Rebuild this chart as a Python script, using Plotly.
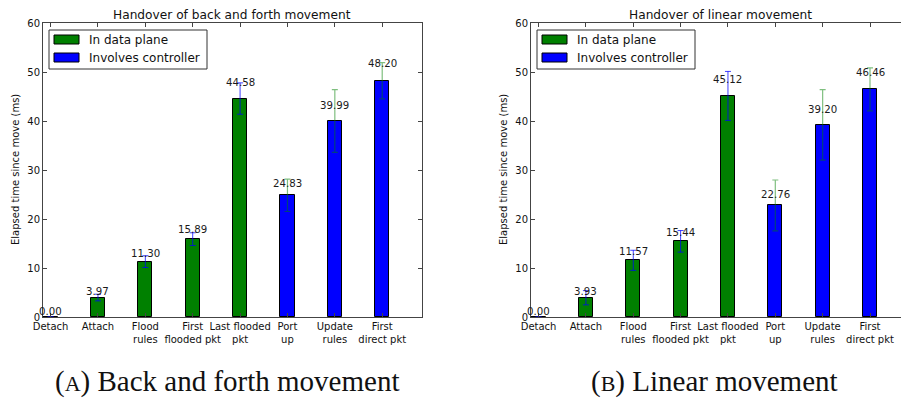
import plotly.graph_objects as go

W, H = 901, 400

categories = ["Detach", "Attach", "Flood<br>rules", "First<br>flooded pkt",
              "Last flooded<br>pkt", "Port<br>up", "Update<br>rules", "First<br>direct pkt"]
positions = list(range(len(categories)))
n_data_plane = 5  # first five steps happen in the data plane

titles = ["Handover of back and forth movement", "Handover of linear movement"]
captions = ["(<span style='font-size:22px'>A</span>) Back and forth movement",
            "(<span style='font-size:22px'>B</span>) Linear movement"]

back_forth_values = [0.00, 3.97, 11.30, 15.89, 44.58, 24.83, 39.99, 48.20]
back_forth_errors = [None, 0.68, 1.2, 1.3, 3.2, 3.3, 6.4, 3.7]
linear_values = [0.00, 3.93, 11.57, 15.44, 45.12, 22.76, 39.20, 46.46]
linear_errors = [None, 1.45, 2.05, 2.2, 5.0, 5.2, 7.2, 4.4]

series_values = [back_forth_values, linear_values]
series_errors = [back_forth_errors, linear_errors]

legend_labels = ["In data plane", "Involves controller"]
GREEN = "#008000"
BLUE = "#0000ff"
FONT = "DejaVu Sans"
AX = "#444444"

def px(x):
    return x / W

def py(y):
    return 1 - y / H

# axes geometry in pixels
ax_left = [43, 531]
ax_right = [422, 901]
ax_top, ax_bottom = 23, 317
unit_px = 47.33
x_ranges = [[-0.16, 7.84], [-0.16, (901 - 538.7) / unit_px]]

fig = go.Figure()
shapes = []
annotations = []

for k in range(2):
    xa = "x" if k == 0 else "x2"
    ya = "y" if k == 0 else "y2"
    vals = series_values[k]
    errs = series_errors[k]
    # data-plane bars
    fig.add_trace(go.Bar(
        x=positions[:n_data_plane], y=vals[:n_data_plane], width=0.3,
        marker=dict(color=GREEN, line=dict(color="#000000", width=1)),
        error_y=dict(type="data", array=errs[:n_data_plane], color="rgba(0,0,255,0.75)",
                     thickness=1, width=3),
        name=legend_labels[0], showlegend=False, xaxis=xa, yaxis=ya))
    # controller bars
    fig.add_trace(go.Bar(
        x=positions[n_data_plane:], y=vals[n_data_plane:], width=0.3,
        marker=dict(color=BLUE, line=dict(color="#000000", width=1)),
        error_y=dict(type="data", array=errs[n_data_plane:], color="rgba(0,128,0,0.5)",
                     thickness=1.2, width=3),
        name=legend_labels[1], showlegend=False, xaxis=xa, yaxis=ya))

    # value labels
    for i, v in zip(positions, vals):
        annotations.append(dict(x=i, y=1.05 * v, xref=xa, yref=ya, text=f"{v:.2f}",
                                showarrow=False, yanchor="bottom", xanchor="center",
                                yshift=-2, font=dict(family=FONT, size=10.2, color="#1a1a1a")))

    L = ax_left[k]
    cx = L + 379 / 2
    # title
    annotations.append(dict(x=px(cx), y=py(15), xref="paper", yref="paper", text=titles[k],
                            showarrow=False, xanchor="center", yanchor="middle",
                            font=dict(family=FONT, size=12.2, color="#111111")))
    # y title
    annotations.append(dict(x=px(L - 28), y=py((ax_top + ax_bottom) / 2), xref="paper", yref="paper",
                            text="Elapsed time since move (ms)", textangle=-90, showarrow=False,
                            xanchor="center", yanchor="middle",
                            font=dict(family=FONT, size=10, color="#111111")))
    # caption
    cap_cx = [227, 714][k]
    annotations.append(dict(x=px(cap_cx), y=py(381), xref="paper", yref="paper", text=captions[k],
                            showarrow=False, xanchor="center", yanchor="middle",
                            font=dict(family="Liberation Serif", size=29, color="#111111")))
    # legend box
    shapes.append(dict(type="rect", xref="paper", yref="paper",
                       x0=px(L + 6), x1=px(L + 164), y0=py(30), y1=py(69),
                       fillcolor="white", line=dict(color="#333333", width=1), layer="above"))
    for j, (lab, col) in enumerate(zip(legend_labels, [GREEN, BLUE])):
        y0 = [35, 53][j]
        shapes.append(dict(type="rect", xref="paper", yref="paper",
                           x0=px(L + 11), x1=px(L + 36), y0=py(y0), y1=py(y0 + 9),
                           fillcolor=col, line=dict(color="#000000", width=1), layer="above"))
        annotations.append(dict(x=px(L + 44), y=py(y0 + 4.5), xref="paper", yref="paper", text=lab,
                                showarrow=False, xanchor="left", yanchor="middle",
                                font=dict(family=FONT, size=12, color="#111111")))

common_x = dict(tickmode="array", tickvals=positions, ticktext=categories, tickangle=0,
                ticks="inside", ticklen=4, tickcolor=AX, showline=True, linecolor=AX, linewidth=1,
                mirror="allticks", showgrid=False, zeroline=False, automargin=False,
                tickfont=dict(family=FONT, size=10, color="#111111"))
common_y = dict(range=[0, 60], tickmode="array", tickvals=[0, 10, 20, 30, 40, 50, 60],
                ticks="inside", ticklen=4, tickcolor=AX, showline=True, linecolor=AX, linewidth=1,
                showgrid=False, zeroline=False, automargin=False,
                tickfont=dict(family=FONT, size=10, color="#111111"))

fig.update_layout(
    width=W, height=H, margin=dict(l=0, r=0, t=0, b=0),
    paper_bgcolor="white", plot_bgcolor="white", showlegend=False, bargap=0,
    xaxis=dict(domain=[px(ax_left[0]), px(ax_right[0])], range=x_ranges[0], anchor="y", **common_x),
    yaxis=dict(domain=[py(ax_bottom), py(ax_top)], anchor="x", mirror="allticks", **common_y),
    xaxis2=dict(domain=[px(ax_left[1]), 1.0], range=x_ranges[1], anchor="y2", **common_x),
    yaxis2=dict(domain=[py(ax_bottom), py(ax_top)], anchor="x2", mirror=False, **common_y),
    shapes=shapes, annotations=annotations,
)

fig.write_html("out.html")
